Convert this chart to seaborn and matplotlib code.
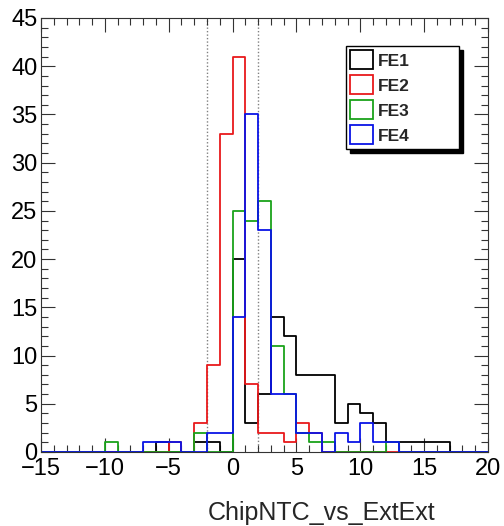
import numpy as np
import pandas as pd
import matplotlib
matplotlib.use("Agg")
import matplotlib.pyplot as plt
from matplotlib.patches import Patch
from matplotlib.ticker import MultipleLocator
import seaborn as sns

# Bin edges: unit-width bins from -15 to 20
bin_edges = list(range(-15, 21))
bin_centres = [e + 0.5 for e in bin_edges[:-1]]

# Entries per bin (bins listed by their lower edge, -15 ... 19)
fe1_counts = [0, 0, 0, 0, 0, 0, 0, 0, 0, 1, 0, 0, 1, 1, 0,
              20, 3, 6, 14, 12, 8, 8, 8, 3, 5, 4, 3, 1, 1, 1,
              1, 1, 0, 0, 0]
fe2_counts = [0, 0, 0, 0, 0, 0, 0, 0, 0, 0, 1, 0, 3, 9, 33,
              41, 7, 2, 2, 1, 3, 2, 0, 0, 0, 0, 0, 0, 0, 0,
              0, 0, 0, 0, 0]
fe3_counts = [0, 0, 0, 0, 0, 1, 0, 0, 0, 0, 0, 0, 2, 0, 0,
              25, 24, 26, 11, 6, 2, 1, 1, 0, 0, 0, 0, 1, 0, 0,
              0, 0, 0, 0, 0]
fe4_counts = [0, 0, 0, 0, 0, 0, 0, 0, 1, 1, 1, 0, 0, 2, 2,
              14, 35, 23, 6, 6, 2, 2, 0, 2, 1, 3, 1, 1, 0, 0,
              0, 0, 0, 0, 0]

series_names = ["FE1", "FE2", "FE3", "FE4"]
series_counts = [fe1_counts, fe2_counts, fe3_counts, fe4_counts]
series_colors = ["#000000", "#e8191b", "#1aa31a", "#0a14e6"]
window_edges = [-2, 2]

sns.set_style("ticks")
plt.rcParams["font.family"] = ["Liberation Sans", "DejaVu Sans"]

fig = plt.figure(figsize=(5.04, 5.26), dpi=100)
ax = fig.add_axes([41 / 504, 1 - 452 / 526, (488 - 41) / 504, (452 - 18) / 526])

for name, counts, color in zip(series_names, series_counts, series_colors):
    df = pd.DataFrame({"x": bin_centres, "w": counts})
    sns.histplot(data=df, x="x", weights="w", bins=bin_edges, element="step",
                 fill=False, color=color, linewidth=1.3, ax=ax)

for xv in window_edges:
    ax.axvline(xv, color="#808080", linestyle=(0, (1, 1.5)), linewidth=1.0, zorder=0)

ax.set_xlim(-15, 20)
ax.set_ylim(0, 45)
ax.set_xlabel("")
ax.set_ylabel("")
ax.xaxis.set_major_locator(MultipleLocator(5))
ax.xaxis.set_minor_locator(MultipleLocator(1))
ax.yaxis.set_major_locator(MultipleLocator(5))
ax.yaxis.set_minor_locator(MultipleLocator(1))
ax.tick_params(which="both", direction="in", top=True, right=True,
               width=0.8, colors="#333333", labelcolor="black", labelsize=17)
ax.tick_params(which="major", length=10)
ax.tick_params(which="minor", length=5)
ax.tick_params(axis="x", pad=4)
ax.tick_params(axis="y", pad=2.5)
for sp in ax.spines.values():
    sp.set_linewidth(0.8)
    sp.set_color("#333333")

fig.text(208 / 504, 1 - 520 / 526, "ChipNTC_vs_ExtExt", ha="left", va="baseline",
         fontsize=18)

handles = [Patch(facecolor="white", edgecolor=c, linewidth=1.3) for c in series_colors]
leg = fig.legend(handles, series_names, loc="upper left", mode="expand",
                 bbox_to_anchor=(346 / 504, 1 - 155 / 526, 113 / 504, 109 / 526),
                 borderaxespad=0,
                 fancybox=False, framealpha=1, edgecolor="black",
                 shadow={"color": "black", "alpha": 1, "ox": 3, "oy": -3},
                 prop={"weight": "bold", "size": 12.5},
                 handlelength=1.3, handleheight=1.3, handletextpad=0.3,
                 labelspacing=0.35, borderpad=0.25)
leg.get_frame().set_linewidth(1.0)

fig.savefig("out.png", dpi=100)
